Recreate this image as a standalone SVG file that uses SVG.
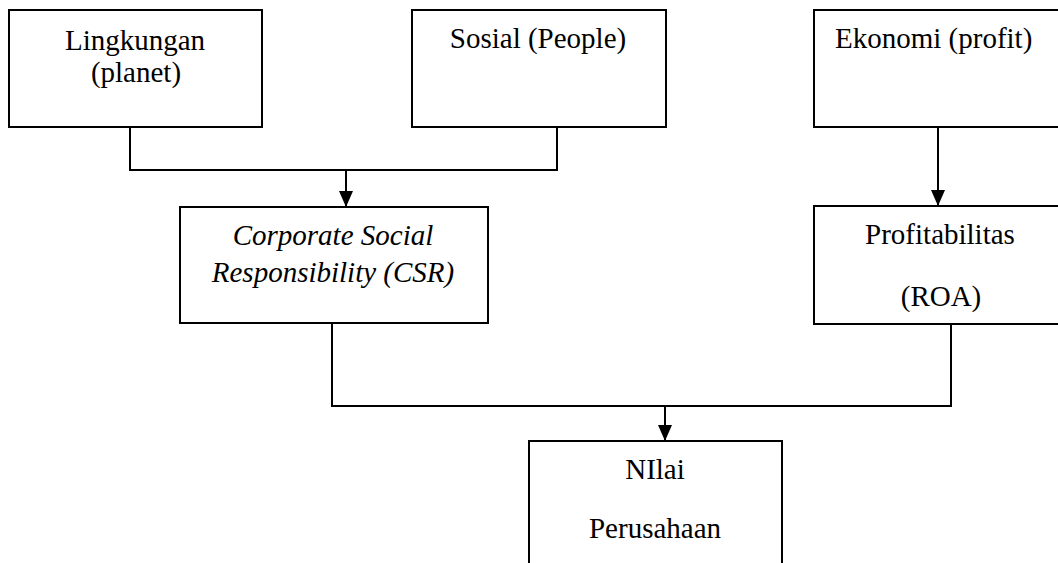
<svg xmlns="http://www.w3.org/2000/svg" width="1058" height="563" viewBox="0 0 1058 563">
  <style>
    .box { fill: #ffffff; stroke: #000000; stroke-width: 2; }
    .lbl { font-family: "Liberation Serif", "Times New Roman", serif; font-size: 29px; fill: #000000; }
    .it { font-style: italic; }
    .con { fill: none; stroke: #000000; stroke-width: 2; }
  </style>
  <defs>
    <marker id="arr" markerUnits="userSpaceOnUse" viewBox="0 0 16 14" markerWidth="16" markerHeight="14" refX="16" refY="7" orient="auto">
      <path d="M0,0 L16,7 L0,14 Z" fill="#000000"/>
    </marker>
  </defs>

  <g id="connectors">
    <polyline class="con" points="130,127 130,170 557,170 557,127"/>
    <line class="con" x1="346" y1="170" x2="346" y2="207" marker-end="url(#arr)"/>
    <line class="con" x1="938" y1="127" x2="938" y2="206" marker-end="url(#arr)"/>
    <polyline class="con" points="332,323 332,406 951,406 951,324"/>
    <line class="con" x1="665" y1="406" x2="665" y2="441" marker-end="url(#arr)"/>
  </g>

  <g id="lingkungan">
    <rect class="box" x="9" y="10" width="253" height="117"/>
    <text class="lbl" x="135" y="50" text-anchor="middle">Lingkungan</text>
    <text class="lbl" x="136" y="82" text-anchor="middle">(planet)</text>
  </g>

  <g id="sosial">
    <rect class="box" x="412" y="10" width="254" height="117"/>
    <text class="lbl" x="538" y="48" text-anchor="middle">Sosial (People)</text>
  </g>

  <g id="ekonomi">
    <rect class="box" x="814" y="10" width="260" height="117"/>
    <text class="lbl" x="835" y="48">Ekonomi (profit)</text>
  </g>

  <g id="csr">
    <rect class="box" x="180" y="207" width="308" height="116"/>
    <text class="lbl it" x="333" y="245" text-anchor="middle">Corporate Social</text>
    <text class="lbl it" x="333" y="282" text-anchor="middle">Responsibility (CSR)</text>
  </g>

  <g id="profitabilitas">
    <rect class="box" x="814" y="206" width="260" height="118"/>
    <text class="lbl" x="940" y="244" text-anchor="middle">Profitabilitas</text>
    <text class="lbl" x="941" y="306" text-anchor="middle">(ROA)</text>
  </g>

  <g id="nilai">
    <rect class="box" x="529" y="441" width="253" height="160"/>
    <text class="lbl" x="655" y="479" text-anchor="middle">NIlai</text>
    <text class="lbl" x="655" y="538" text-anchor="middle">Perusahaan</text>
  </g>
</svg>
